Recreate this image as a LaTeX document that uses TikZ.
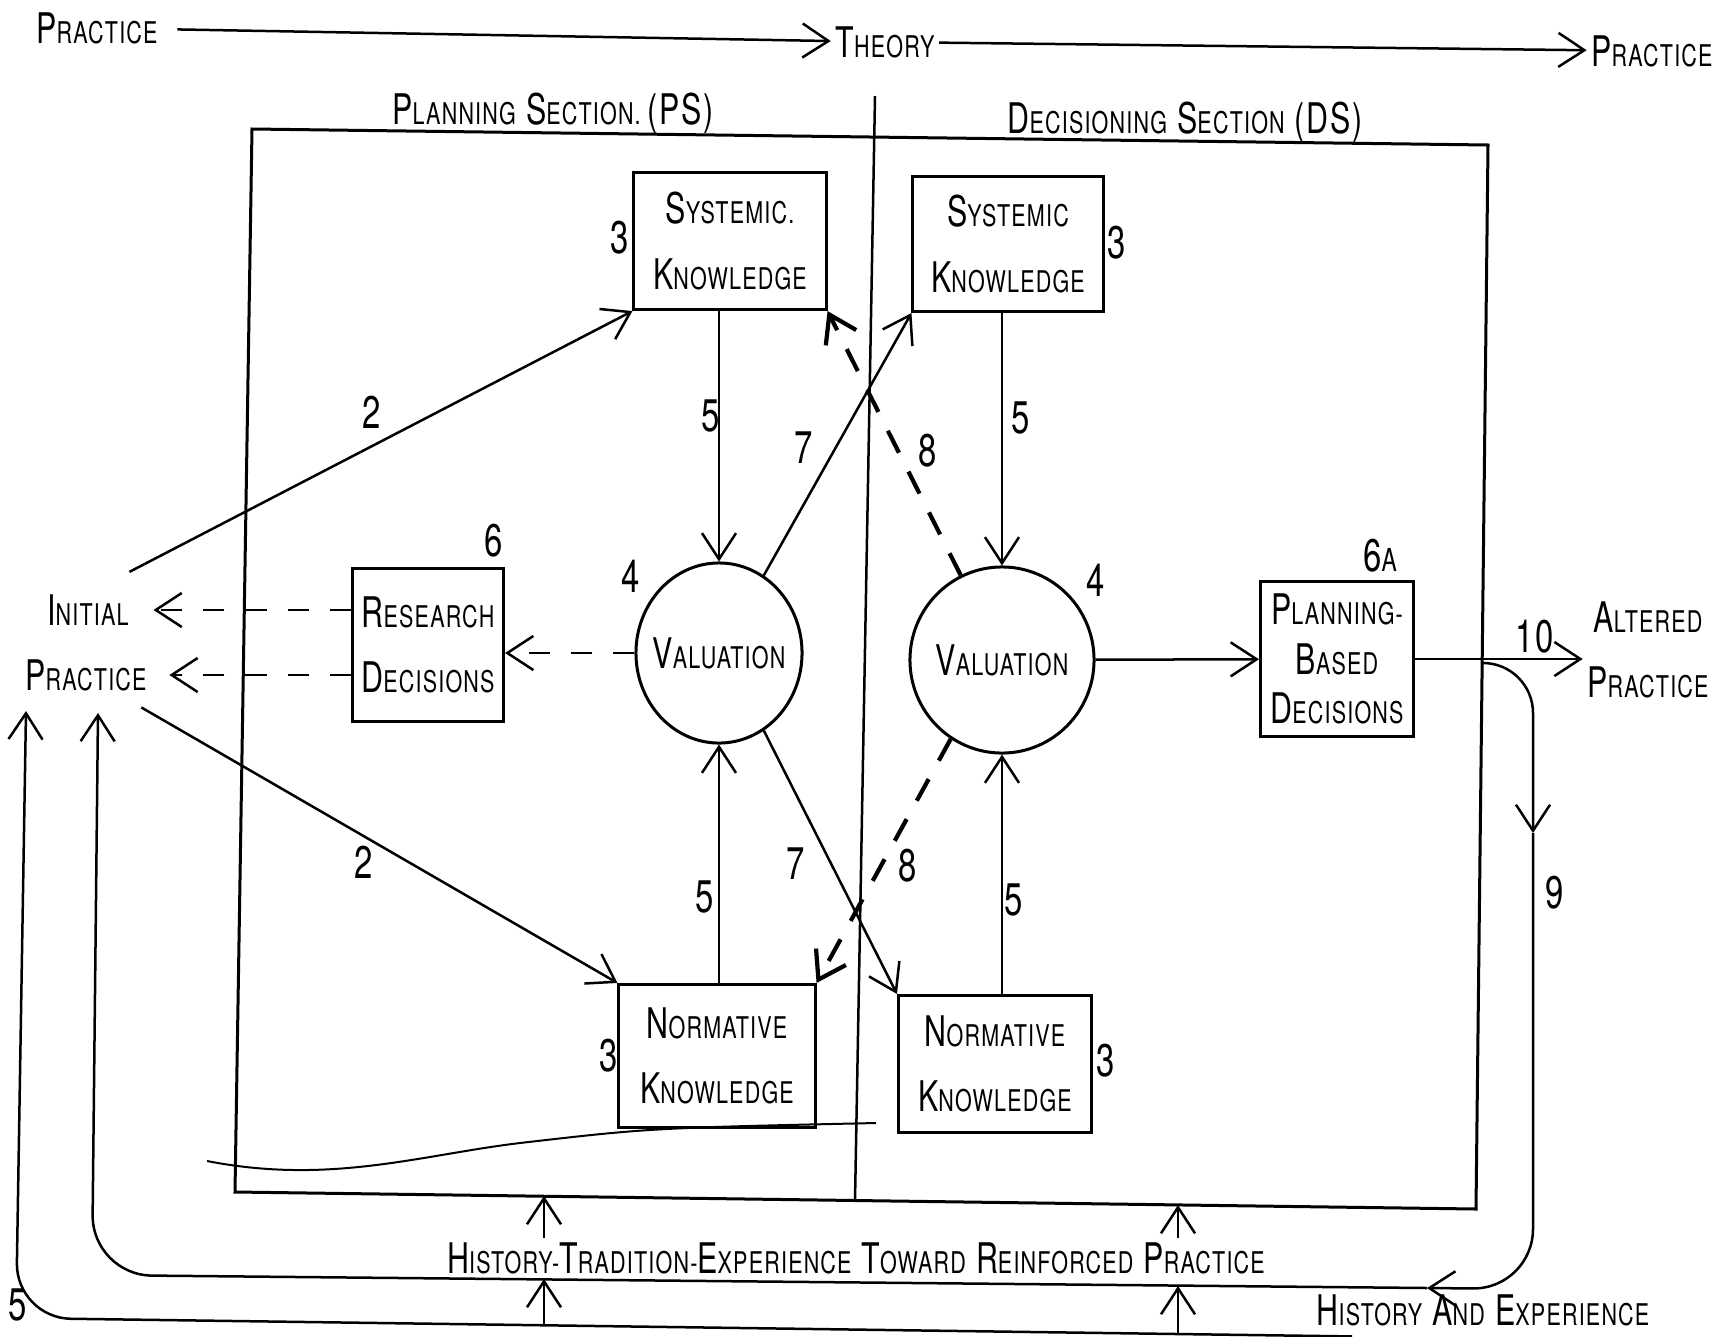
\documentclass[tikz,border=0pt]{standalone}
\usepackage{fontspec}
\setmainfont{TeX Gyre Heros}[FakeStretch=0.72,LetterSpace=4]
\usetikzlibrary{arrows.meta,shapes.geometric,positioning}
\newcommand{\lettering}[2]{{\fontsize{12}{12}\selectfont #1}{\fontsize{8.5}{8.5}\selectfont #2}}
\tikzset{
    >={Straight Barb[length=2.6mm,width=3.4mm]},
    flow/.style={draw=black,->},
    dashflow/.style={draw=black,->,dash pattern=on 6pt off 6pt},
    bigdash/.style={draw=black,->,line width=1.2pt,dash pattern=on 7pt off 6pt},
    knowbox/.style={draw=black,line width=.3mm,align=center,inner sep=1pt,
        font=\fontsize{12}{18.5}\selectfont},
    valcircle/.style={draw=black,ellipse,line width=.3mm,inner sep=0pt},
    words/.style={inner sep=1pt,align=center,font=\fontsize{12}{18.5}\selectfont},
    numlabel/.style={inner sep=0pt,font=\fontsize{13}{13}\selectfont},
}

\begin{document}
\begin{tikzpicture}[x=0.01cm,y=-0.01cm,line width=.25mm]
		\useasboundingbox (0,0) rectangle (1715,1336);
		\node[words] (pracL) at (97,28) {\lettering{P}{RACTICE}};
		\node[words] (theory) at (885,42) {\lettering{T}{HEORY}};
		\node[words] (pracR) at (1652,51) {\lettering{P}{RACTICE}};
		\draw[flow,shorten <=.15cm] (pracL) -- (theory);
		\draw[flow] (theory) -- (pracR);
		\node[words] (psname) at (553,113) {\lettering{P}{LANNING} \lettering{S}{ECTION.}\,{\fontsize{12}{12}\selectfont(PS)}};
		\node[words] (dsname) at (1185,122) {\lettering{D}{ECISIONING} \lettering{S}{ECTION} {\fontsize{12}{12}\selectfont(DS)}};
		\coordinate (boxNW) at (252,129);
		\coordinate (boxNE) at (1488,145);
		\coordinate (boxSE) at (1476,1209);
		\coordinate (boxSW) at (235,1192);
		\draw[line width=.3mm] (boxNW) -- (boxNE) -- (boxSE) -- (boxSW) -- cycle;
		\coordinate (divTop) at (875,96);
		\coordinate (divBot) at (855,1201);
		\draw (divTop) -- (divBot);
		\draw[line width=.2mm] (207,1161) .. controls (330,1185) and (420,1155) .. (520,1143) .. controls (650,1128) .. (876,1123);
		\node[knowbox,minimum width=1.92cm,minimum height=1.37cm] (sysP) at (730,241) {\lettering{S}{YSTEMIC.}\\\lettering{K}{NOWLEDGE}};
		\node[knowbox,minimum width=1.90cm,minimum height=1.35cm] (sysD) at (1008,244) {\lettering{S}{YSTEMIC}\\\lettering{K}{NOWLEDGE}};
		\node[knowbox,minimum width=1.51cm,minimum height=1.53cm] (rd) at (428,645) {\lettering{R}{ESEARCH}\\\lettering{D}{ECISIONS}};
		\node[knowbox,minimum width=1.96cm,minimum height=1.43cm] (normP) at (717,1056) {\lettering{N}{ORMATIVE}\\\lettering{K}{NOWLEDGE}};
		\node[knowbox,minimum width=1.93cm,minimum height=1.37cm] (normD) at (995,1064) {\lettering{N}{ORMATIVE}\\\lettering{K}{NOWLEDGE}};
		\node[knowbox,minimum width=1.53cm,minimum height=1.54cm,font=\fontsize{12}{14}\selectfont] (pbd) at (1337,659) {\lettering{P}{LANNING-}\\\lettering{B}{ASED}\\\lettering{D}{ECISIONS}};
		\node[valcircle,minimum width=1.66cm,minimum height=1.80cm] (valP) at (719,653) {\makebox[1cm]{\lettering{V}{ALUATION}}};
		\node[valcircle,minimum width=1.84cm,minimum height=1.86cm] (valD) at (1002,660) {\makebox[1cm]{\lettering{V}{ALUATION}}};
		\node[words] (initial) at (88,610) {\lettering{I}{NITIAL}};
		\node[words] (practice) at (86,675) {\lettering{P}{RACTICE}};
		\node[words] (altered) at (1648,650) {\lettering{A}{LTERED}\\\lettering{P}{RACTICE}};
		\node[numlabel] (n3a) at (620,238) {3};
		\node[numlabel] (n3b) at (1117,243) {3};
		\node[numlabel] (n3c) at (609,1056) {3};
		\node[numlabel] (n3d) at (1106,1061) {3};
		\node[numlabel] (n4a) at (631,576) {4};
		\node[numlabel] (n4b) at (1096,580) {4};
		\node[numlabel] (n2a) at (372,412) {2};
		\node[numlabel] (n2b) at (364,862) {2};
		\node[numlabel] (n5a) at (711,416) {5};
		\node[numlabel] (n5b) at (1021,418) {5};
		\node[numlabel] (n5c) at (705,897) {5};
		\node[numlabel] (n5d) at (1014,900) {5};
		\node[numlabel] (n7a) at (804,448) {7};
		\node[numlabel] (n7b) at (796,864) {7};
		\node[numlabel] (n8a) at (928,451) {8};
		\node[numlabel] (n8b) at (908,866) {8};
		\node[numlabel] (n6) at (494,541) {6};
		\node[numlabel] (n6a) at (1380,556) {6{\fontsize{9}{9}\selectfont A}};
		\node[numlabel] (n9) at (1555,893) {9};
		\node[numlabel] (n10) at (1535,637) {10};
		\node[numlabel] (n5e) at (18,1305) {5};
		\draw[flow] ([shift={(-4,-18)}]initial.north east) -- (sysP.south west);
		\draw[flow] ([shift={(-10,12)}]practice.south east) -- (normP.north west);
		\draw[dashflow] (rd.west |- initial) -- ([xshift=.2cm]initial.east);
		\draw[dashflow] (rd.west |- practice) -- ([xshift=.18cm]practice.east);
		\draw[dashflow] (valP.west) -- (valP.west -| rd.east);
		\draw[flow] (sysP.south -| valP.north) -- (valP.north);
		\draw[flow] (normP.north -| valP.south) -- (valP.south);
		\draw[flow] (sysD.south -| valD.north) -- (valD.north);
		\draw[flow] (normD.north -| valD.south) -- (valD.south);
		\draw[flow] (valP.60) -- (sysD.south west);
		\draw[flow] (valP.-60) -- (normD.north west);
		\draw[bigdash] (valD.116) -- (sysP.south east);
		\draw[bigdash] (valD.237) -- (normP.north east);
		\draw[flow] (valD) -- (pbd);
		\draw[flow] (pbd.east) -- (pbd.east -| altered.west);
		\coordinate (split) at (1483,663);
		\coordinate (down9) at (1533,833);
		\coordinate (turn9) at (1427,1288);
		\coordinate (tipIn) at (98,713);
		\draw[flow,rounded corners=.5cm] (split) -| (down9);
		\draw[flow,rounded corners=.6cm] (down9) -- (1533,1289) -- (turn9);
		\draw[flow,rounded corners=.6cm] (turn9) -- (92,1275) -- (tipIn);
		\node[words] (histTrad) at (856,1258) {\lettering{H}{ISTORY-}\lettering{T}{RADITION-}\lettering{E}{XPERIENCE} \lettering{T}{OWARD} \lettering{R}{EINFORCED} \lettering{P}{RACTICE}};
		\node[words] (histExp) at (1483,1310) {\lettering{H}{ISTORY} \lettering{A}{ND} \lettering{E}{XPERIENCE}};
		\coordinate (tipOut) at (26,711);
		\draw[flow,rounded corners=.55cm] ([shift={(40,6)}]histExp.south west) -- (16,1318) -- (tipOut);
		\coordinate (boxA) at (544,1196);
		\coordinate (boxB) at (1178,1205);
		\coordinate (inA) at (544,1279);
		\coordinate (inB) at (1178,1286);
		\coordinate (outA) at (544,1324);
		\coordinate (outB) at (1178,1333);
		\draw[flow] (histTrad.north -| boxA) -- (boxA);
		\draw[flow] (histTrad.north -| boxB) -- (boxB);
		\draw[flow] (outA) -- (inA);
		\draw[flow] (outB) -- (inB);
\end{tikzpicture}
\end{document}
